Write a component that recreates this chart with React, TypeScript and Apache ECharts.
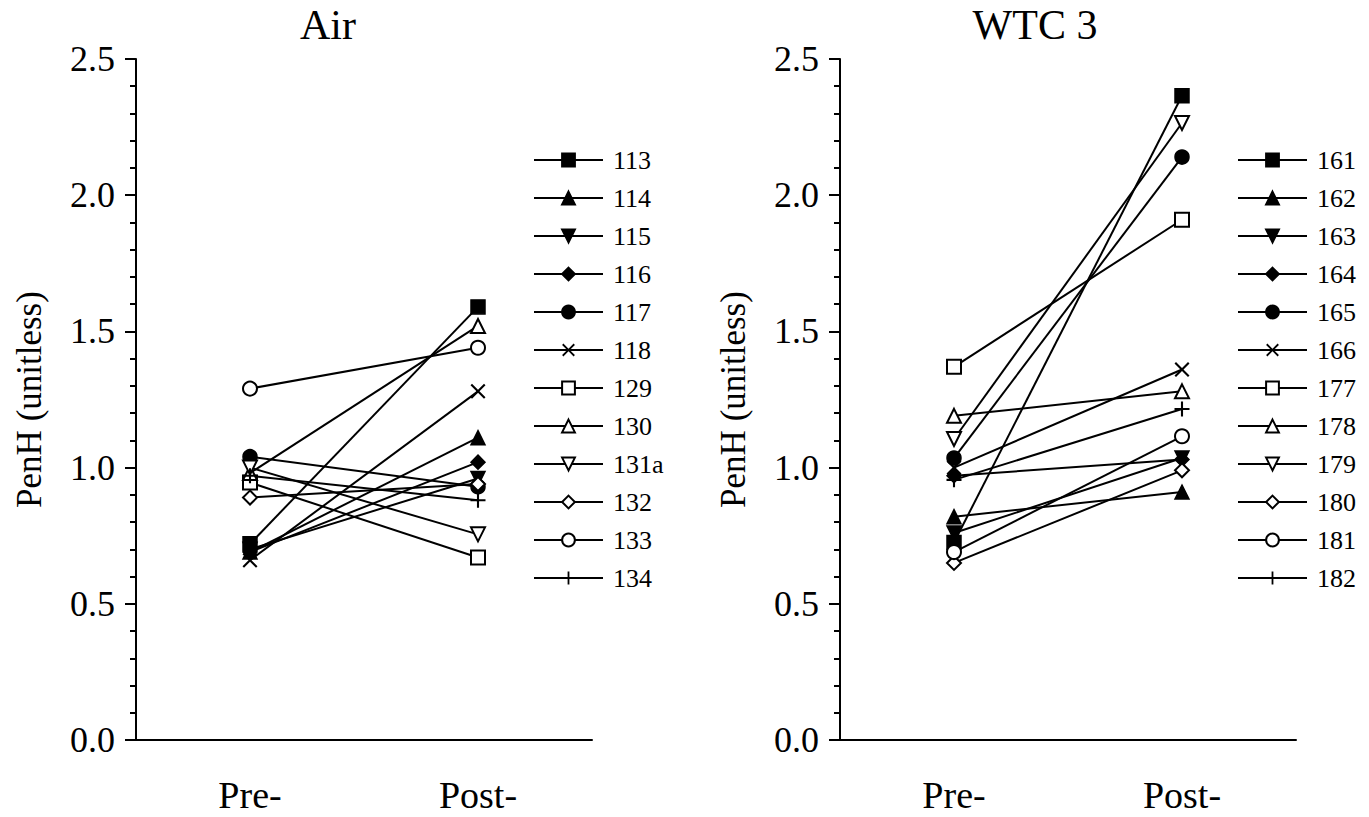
import React, { useEffect, useRef } from "react";
import * as echarts from "echarts";

const FONT = "Liberation Serif, Times New Roman, serif";

// Categories
const categories = ["Pre-", "Post-"];

// Air panel
const airNames = ["113", "114", "115", "116", "117", "118", "129", "130", "131a", "132", "133", "134"];
const airPre = [0.72, 0.69, 0.70, 0.69, 1.04, 0.66, 0.945, 0.98, 1.00, 0.89, 1.29, 0.97];
const airPost = [1.59, 1.11, 0.96, 1.02, 0.93, 1.28, 0.67, 1.52, 0.755, 0.94, 1.44, 0.88];

// WTC 3 panel
const wtcNames = ["161", "162", "163", "164", "165", "166", "177", "178", "179", "180", "181", "182"];
const wtcPre = [0.725, 0.82, 0.76, 0.97, 1.035, 1.0, 1.37, 1.19, 1.105, 0.65, 0.69, 0.955];
const wtcPost = [2.365, 0.91, 1.035, 1.03, 2.14, 1.36, 1.91, 1.28, 2.265, 0.99, 1.115, 1.215];

// Y axis ticks
const yMin = 0;
const yMax = 2.5;
const yInterval = 0.5;

const panelTitles = ["Air", "WTC 3"];
const yAxisName = "PenH (unitless)";

const X_PATH = "path://M0,1L1,0L5,4L9,0L10,1L6,5L10,9L9,10L5,6L1,10L0,9L4,5Z";
const PLUS_PATH = "path://M4.3,0H5.7V4.3H10V5.7H5.7V10H4.3V5.7H0V4.3H4.3Z";

const symbols = [
  "rect", "triangle", "triangle", "diamond", "circle", X_PATH,
  "emptyRect", "emptyTriangle", "emptyTriangle", "emptyDiamond", "emptyCircle", PLUS_PATH,
];
const rotates = [0, 0, 180, 0, 0, 0, 0, 0, 180, 0, 0, 0];

function buildSeries(names: string[], pre: number[], post: number[], idx: number) {
  return names.map((name, i) => {
    const sym = symbols[i];
    const isPath = sym.startsWith("path://");
    return {
      type: "line",
      name,
      xAxisIndex: idx,
      yAxisIndex: idx,
      data: [pre[i], post[i]],
      symbol: sym,
      symbolRotate: rotates[i],
      symbolSize: isPath ? 15 : 14,
      showSymbol: true,
      silent: true,
      lineStyle: { color: "#000", width: 2 },
      itemStyle: { color: "#000", borderColor: "#000", borderWidth: isPath ? 0 : 1.5 },
      emphasis: { disabled: true },
    };
  });
}

export default function App() {
  const ref = useRef<HTMLDivElement>(null);
  useEffect(() => {
    if (!ref.current) return;
    const chart = echarts.init(ref.current, undefined, { renderer: "svg" });
    const grids = [
      { left: 136, top: 59, width: 456, height: 681 },
      { left: 840, top: 59, width: 456, height: 681 },
    ];
    const xAxes = grids.map((_, i) => ({
      type: "category",
      gridIndex: i,
      data: categories,
      boundaryGap: true,
      axisLine: { lineStyle: { color: "#000", width: 2 } },
      axisTick: { alignWithLabel: true, length: 11, lineStyle: { color: "#000", width: 2 } },
      axisLabel: { color: "#000", fontFamily: FONT, fontSize: 38, margin: 36 },
      splitLine: { show: false },
    }));
    const yAxes = grids.map((_, i) => ({
      type: "value",
      gridIndex: i,
      min: yMin,
      max: yMax,
      interval: yInterval,
      name: yAxisName,
      nameLocation: "middle",
      nameGap: 89,
      nameTextStyle: { color: "#000", fontFamily: FONT, fontSize: 35 },
      axisLine: { show: true, lineStyle: { color: "#000", width: 2 } },
      axisTick: { show: true, length: 11, lineStyle: { color: "#000", width: 2 } },
      minorTick: { show: true, splitNumber: 5, length: 6, lineStyle: { color: "#000", width: 2 } },
      axisLabel: {
        color: "#000",
        fontFamily: FONT,
        fontSize: 36,
        margin: 21,
        formatter: (v: number) => v.toFixed(1),
      },
      splitLine: { show: false },
      minorSplitLine: { show: false },
    }));
    const legendBase = {
      orient: "vertical",
      top: 147,
      itemWidth: 69,
      itemHeight: 16,
      itemGap: 12,
      padding: 0,
      selectedMode: false,
      textStyle: { color: "#000", fontFamily: FONT, fontSize: 26, lineHeight: 26, padding: [0, 0, 0, 5] },
    };
    chart.setOption({
      animation: false,
      backgroundColor: "#fff",
      grid: grids,
      xAxis: xAxes,
      yAxis: yAxes,
      legend: [
        { ...legendBase, left: 533, data: airNames },
        { ...legendBase, left: 1237, data: wtcNames },
      ],
      graphic: [
        {
          type: "text",
          x: 328,
          y: 25,
          style: { text: panelTitles[0], textAlign: "center", textVerticalAlign: "middle", font: `42px ${FONT}`, fill: "#000" },
        },
        {
          type: "text",
          x: 1035,
          y: 25,
          style: { text: panelTitles[1], textAlign: "center", textVerticalAlign: "middle", font: `42px ${FONT}`, fill: "#000" },
        },
      ],
      series: [
        ...buildSeries(airNames, airPre, airPost, 0),
        ...buildSeries(wtcNames, wtcPre, wtcPost, 1),
      ],
    });
    return () => chart.dispose();
  }, []);
  return (
    <div
      ref={ref}
      style={{ position: "fixed", left: 0, top: 0, width: 1369, height: 817, background: "#fff" }}
    />
  );
}
